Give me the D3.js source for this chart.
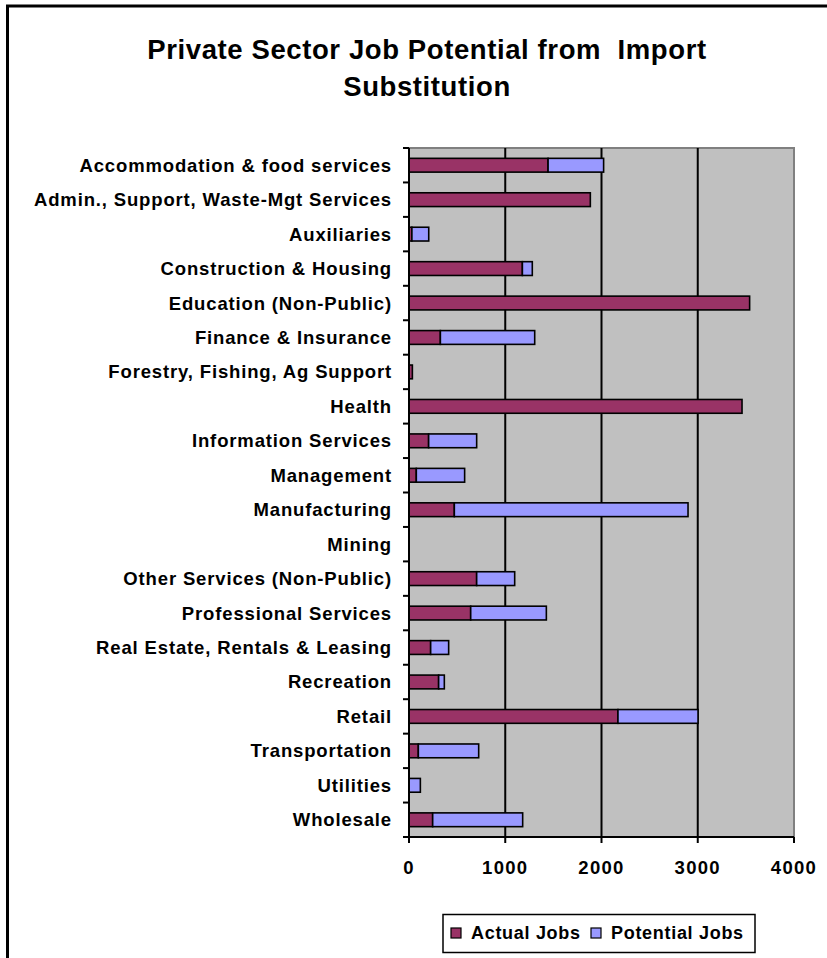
<!DOCTYPE html>
<html>
<head>
<meta charset="utf-8">
<script src="https://cdn.jsdelivr.net/npm/d3@7"></script>
<style>
  html, body { margin: 0; padding: 0; background: #fff; }
  svg { display: block; }
  text { font-family: "Liberation Sans", Arial, sans-serif; font-weight: bold; fill: #000; white-space: pre; }
</style>
</head>
<body>
<script>
const categories = [
  "Accommodation & food services",
  "Admin., Support, Waste-Mgt Services",
  "Auxiliaries",
  "Construction & Housing",
  "Education (Non-Public)",
  "Finance & Insurance",
  "Forestry, Fishing, Ag Support",
  "Health",
  "Information Services",
  "Management",
  "Manufacturing",
  "Mining",
  "Other Services (Non-Public)",
  "Professional Services",
  "Real Estate, Rentals & Leasing",
  "Recreation",
  "Retail",
  "Transportation",
  "Utilities",
  "Wholesale"
];
const actualJobs =    [1445, 1884, 30, 1178, 3539, 326, 35, 3460, 204, 76, 471, 0, 703, 641, 225, 308, 2171, 97, 0, 246];
const potentialJobs = [577,  0,   175, 103,  0,    980, 0,  0,    499, 502, 2428, 0, 395, 786, 187, 59,  832,  627, 118, 935];
const xTicks = [0, 1000, 2000, 3000, 4000];
const seriesNames = ["Actual Jobs", "Potential Jobs"];
const seriesColors = ["#993366", "#9999FF"];

const W = 827, H = 958;
const svg = d3.select("body").append("svg").attr("width", W).attr("height", H);

// outer chart border
svg.append("rect").attr("x", 7.5).attr("y", 6).attr("width", W + 10).attr("height", H + 10)
  .attr("fill", "#fff").attr("stroke", "#000").attr("stroke-width", 3);

// title
const title = svg.append("text").attr("text-anchor", "middle").attr("font-size", 27.5)
  .attr("letter-spacing", 0.6);
title.append("tspan").attr("x", 427).attr("y", 59).text("Private Sector Job Potential from  Import");
title.append("tspan").attr("x", 427).attr("y", 96).text("Substitution");

const plot = { left: 409, right: 794, top: 148, bottom: 837 };

const x = d3.scaleLinear().domain([0, 4000]).range([plot.left, plot.right]);
const y = d3.scaleBand().domain(categories).range([plot.top, plot.bottom]).paddingInner(0.6).paddingOuter(0.3);

// plot background
svg.append("rect").attr("x", plot.left).attr("y", plot.top)
  .attr("width", plot.right - plot.left).attr("height", plot.bottom - plot.top)
  .attr("fill", "#C0C0C0").attr("stroke", "#808080").attr("stroke-width", 2);

// gridlines
svg.append("g").selectAll("line").data(xTicks.slice(1, -1)).join("line")
  .attr("x1", d => x(d)).attr("x2", d => x(d))
  .attr("y1", plot.top).attr("y2", plot.bottom)
  .attr("stroke", "#000").attr("stroke-width", 2);

// stacked bars
const data = categories.map((c, i) => ({ cat: c, a: actualJobs[i], p: potentialJobs[i] }));
const stack = d3.stack().keys(["a", "p"])(data);
stack.forEach((layer, li) => {
  svg.append("g").selectAll("rect").data(layer.filter(d => d[1] - d[0] > 0)).join("rect")
    .attr("x", d => x(d[0]))
    .attr("y", d => y(d.data.cat))
    .attr("width", d => x(d[1]) - x(d[0]))
    .attr("height", y.bandwidth())
    .attr("fill", seriesColors[li])
    .attr("stroke", "#000").attr("stroke-width", 1.6);
});

// y axis
const yAxis = svg.append("g");
yAxis.append("line").attr("x1", plot.left).attr("x2", plot.left)
  .attr("y1", plot.top).attr("y2", plot.bottom).attr("stroke", "#000").attr("stroke-width", 2);
const boundaries = d3.range(categories.length + 1).map(i => plot.top + i * (plot.bottom - plot.top) / categories.length);
yAxis.selectAll("line.t").data(boundaries).join("line").attr("class", "t")
  .attr("x1", plot.left - 6).attr("x2", plot.left)
  .attr("y1", d => d).attr("y2", d => d).attr("stroke", "#000").attr("stroke-width", 2);
yAxis.selectAll("text").data(categories).join("text")
  .attr("x", 392).attr("y", d => y(d) + y.bandwidth() / 2)
  .attr("dy", "0.35em").attr("text-anchor", "end").attr("font-size", 18.5)
  .attr("letter-spacing", 0.85)
  .text(d => d);

// x axis
const xAxis = svg.append("g");
xAxis.append("line").attr("x1", plot.left).attr("x2", plot.right)
  .attr("y1", plot.bottom).attr("y2", plot.bottom).attr("stroke", "#000").attr("stroke-width", 2);
xAxis.selectAll("line.t").data(xTicks).join("line").attr("class", "t")
  .attr("x1", d => x(d)).attr("x2", d => x(d))
  .attr("y1", plot.bottom).attr("y2", plot.bottom + 6).attr("stroke", "#000").attr("stroke-width", 2);
xAxis.selectAll("text").data(xTicks).join("text")
  .attr("x", d => x(d)).attr("y", 868).attr("dy", "0.35em")
  .attr("text-anchor", "middle").attr("font-size", 18.5).attr("letter-spacing", 1.3)
  .text(d => d);

// legend
const lg = svg.append("g");
lg.append("rect").attr("x", 443).attr("y", 914.5).attr("width", 312).attr("height", 38)
  .attr("fill", "#fff").attr("stroke", "#000").attr("stroke-width", 1.5);
const legendX = [451, 591];
seriesNames.forEach((n, i) => {
  lg.append("rect").attr("x", legendX[i]).attr("y", 928).attr("width", 10).attr("height", 10)
    .attr("fill", seriesColors[i]).attr("stroke", "#000").attr("stroke-width", 1.2);
  lg.append("text").attr("x", legendX[i] + 20).attr("y", 933).attr("dy", "0.35em")
    .attr("font-size", 18).attr("letter-spacing", 0.7).text(n);
});
</script>
</body>
</html>
